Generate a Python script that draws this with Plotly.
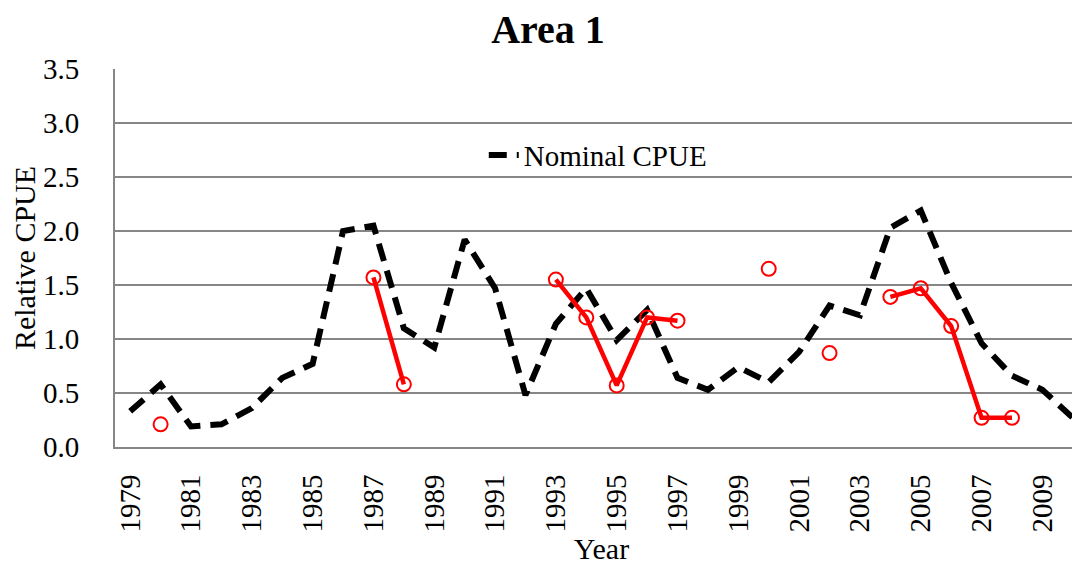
import plotly.graph_objects as go

years = list(range(1979, 2011))
nominal_cpue = [0.33, 0.58, 0.19, 0.21, 0.36, 0.64, 0.77, 2.00, 2.05, 1.10, 0.92,
                1.92, 1.47, 0.48, 1.14, 1.47, 0.99, 1.27, 0.64, 0.53, 0.74, 0.60,
                0.88, 1.31, 1.22, 2.03, 2.19, 1.52, 0.96, 0.66, 0.53, 0.27]
standardized_cpue = [None, 0.21, None, None, None, None, None, None, 1.57, 0.58, None,
                     None, None, None, 1.55, 1.20, 0.57, 1.20, 1.17, None, None, 1.65,
                     None, 0.87, None, 1.39, 1.47, 1.12, 0.27, 0.27, None, None]
tick_years = [str(y) for y in range(1979, 2011, 2)]
y_ticks = [0.0, 0.5, 1.0, 1.5, 2.0, 2.5, 3.0, 3.5]

FONT = "Liberation Serif, Times New Roman, serif"
xcat = [str(y) for y in years]

fig = go.Figure()
fig.add_trace(go.Scatter(
    x=xcat, y=nominal_cpue, mode="lines", name="Nominal CPUE",
    line=dict(color="black", width=6, dash="18px,10px"),
))
fig.add_trace(go.Scatter(
    x=xcat, y=standardized_cpue, mode="lines+markers", name="Standardized CPUE",
    line=dict(color="#ff0000", width=4.5),
    marker=dict(symbol="circle-open", size=14, color="#ff0000", line=dict(width=2)),
    connectgaps=False, showlegend=False,
))

fig.update_layout(
    width=1080, height=557,
    margin=dict(l=107, r=0, t=61, b=118),
    paper_bgcolor="white", plot_bgcolor="white",
    font=dict(family=FONT, color="black", size=29),
    title=dict(text="<b>Area 1</b>", x=0.5, xanchor="center", y=0.962, yanchor="middle",
               font=dict(family=FONT, size=40, color="black")),
    showlegend=True,
    legend=dict(x=0.379, y=0.772, xanchor="left", yanchor="middle",
                bgcolor="rgba(255,255,255,0)", font=dict(family=FONT, size=29)),
    xaxis=dict(
        type="category", tickmode="array", tickvals=tick_years, ticktext=tick_years,
        tickangle=-90, showgrid=False, showline=True, linecolor="#868686", linewidth=2,
        ticks="outside", ticklen=14, tickcolor="rgba(0,0,0,0)",
        tickfont=dict(family=FONT, size=29),
        title=dict(text="Year", font=dict(family=FONT, size=30), standoff=6),
        range=[-0.5, len(years) - 0.5],
    ),
    yaxis=dict(
        range=[0, 3.5], tickmode="array", tickvals=y_ticks,
        ticktext=[f"{v:.1f}" for v in y_ticks],
        showgrid=True, gridcolor="#868686", gridwidth=2,
        showline=True, linecolor="#868686", linewidth=2, zeroline=False,
        ticks="outside", ticklen=28, tickcolor="rgba(0,0,0,0)",
        tickfont=dict(family=FONT, size=29),
        title=dict(text="Relative CPUE", font=dict(family=FONT, size=30), standoff=10),
    ),
)

fig.write_html("out.html")
